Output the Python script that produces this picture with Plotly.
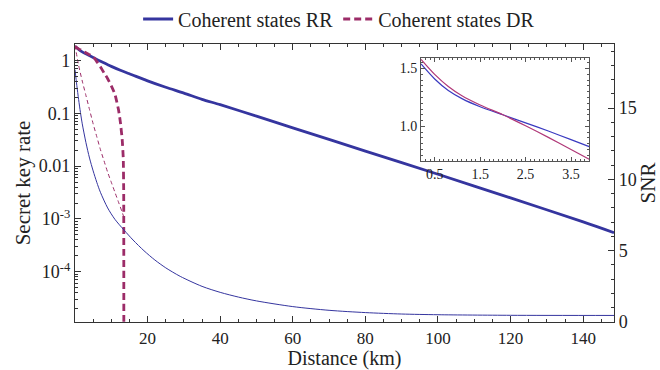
import plotly.graph_objects as go

# Secret key rate (log scale) versus distance
dist_rr = [0, 1, 2, 3, 5, 7.5, 10, 12.5, 15, 20, 25, 30, 35, 40, 50, 60, 80, 100, 120, 140, 148.5]
key_rr = [1.85, 1.62, 1.45, 1.33, 1.13, 0.93, 0.77, 0.65, 0.56, 0.41, 0.31, 0.24, 0.183,
          0.145, 0.088, 0.053, 0.0192, 0.0070, 0.0025, 0.00088, 0.00055]

dist_dr = [0, 1, 2, 3, 4, 5, 6, 7, 8, 9, 10, 11, 12, 12.5, 13, 13.3, 13.42, 13.46]
key_dr = [1.85, 1.65, 1.52, 1.40, 1.28, 1.17, 0.95, 0.76, 0.58, 0.45, 0.33, 0.23, 0.115,
          0.068, 0.032, 0.014, 0.003, 1e-7]

# Signal-to-noise ratio (right axis)
dist_snr_rr = [0, 0.5, 1, 1.5, 2, 3, 4, 5, 6, 7, 9, 11, 13.5, 16, 19, 22, 25, 29, 35, 40,
               45, 50, 60, 70, 80, 90, 100, 120, 148.5]
snr_rr = [17.7, 16.6, 15.6, 14.7, 13.9, 12.6, 11.5, 10.6, 9.8, 9.1, 8.0, 7.2, 6.45, 5.75,
          5.0, 4.35, 3.8, 3.2, 2.5, 2.08, 1.75, 1.48, 1.08, 0.82, 0.66, 0.56, 0.51, 0.47, 0.46]

dist_snr_dr = [0, 1, 2, 3, 4, 5, 6, 7, 8, 9, 10, 11, 12, 13, 13.46]
snr_dr = [19.4, 18.0, 16.9, 15.9, 14.9, 13.9, 13.0, 12.1, 11.3, 10.5, 9.8, 9.1, 8.4, 7.7, 7.35]

# Inset: short-distance detail
inset_x = [0.2, 0.5, 0.8, 1.1, 1.5, 2.0, 2.5, 3.0, 3.5, 3.9]
inset_rr = [1.54, 1.41, 1.31, 1.24, 1.17, 1.10, 1.03, 0.96, 0.885, 0.825]
inset_dr = [1.58, 1.45, 1.345, 1.265, 1.185, 1.10, 1.005, 0.905, 0.80, 0.715]

key_ticks = [1e-4, 1e-3, 0.01, 0.1, 1]
key_ticktext = ["10<sup>-4</sup>", "10<sup>-3</sup>", "0.01", "0.1", "1"]
dist_ticks = [20, 40, 60, 80, 100, 120, 140]
snr_ticks = [0, 5, 10, 15]
inset_xticks = [0.5, 1.5, 2.5, 3.5]
inset_yticks = [1.0, 1.5]

BLUE = "#35359f"
PURPLE = "#9c2c68"
AXIS = "#333333"
FONT = "Liberation Serif, DejaVu Serif, serif"

fig = go.Figure()

fig.add_trace(go.Scatter(x=dist_rr, y=key_rr, mode="lines", name="Coherent states RR",
                         line=dict(color=BLUE, width=2.8, shape="spline", smoothing=0.8)))
fig.add_trace(go.Scatter(x=dist_dr, y=key_dr, mode="lines", name="Coherent states DR",
                         line=dict(color=PURPLE, width=2.8, dash="7px,4px", shape="spline",
                                   smoothing=0.4)))
fig.add_trace(go.Scatter(x=dist_snr_rr, y=snr_rr, mode="lines", yaxis="y2", showlegend=False,
                         line=dict(color=BLUE, width=1, shape="spline", smoothing=0.8)))
fig.add_trace(go.Scatter(x=dist_snr_dr, y=snr_dr, mode="lines", yaxis="y2", showlegend=False,
                         line=dict(color=PURPLE, width=1, dash="4px,3px", shape="spline",
                                   smoothing=0.6)))
fig.add_trace(go.Scatter(x=inset_x, y=inset_rr, mode="lines", xaxis="x3", yaxis="y3",
                         showlegend=False,
                         line=dict(color="#3a3ac0", width=1.2, shape="spline", smoothing=0.8)))
fig.add_trace(go.Scatter(x=inset_x, y=inset_dr, mode="lines", xaxis="x3", yaxis="y3",
                         showlegend=False,
                         line=dict(color="#b03878", width=1.2, shape="spline", smoothing=0.8)))

log_minor = [m * 10.0 ** e for e in range(-5, 1) for m in range(2, 10)]

fig.update_layout(
    width=660, height=370,
    margin=dict(l=75, r=46, t=44, b=48, autoexpand=False),
    paper_bgcolor="white", plot_bgcolor="white",
    font=dict(family=FONT, size=18, color="#222"),
    legend=dict(orientation="h", x=0.49, xanchor="center", y=1.09, yanchor="middle",
                font=dict(size=20), itemwidth=30, tracegroupgap=0),
    xaxis=dict(range=[0, 148.5], tickvals=dist_ticks, ticks="inside", ticklen=6,
               tickcolor=AXIS, showline=True, linecolor=AXIS, linewidth=1.3,
               mirror="ticks", showgrid=False, zeroline=False, tickfont=dict(size=17),
               minor=dict(dtick=5, tick0=0, ticks="inside", ticklen=3, tickcolor=AXIS),
               title=dict(text="Distance (km)", font=dict(size=20), standoff=2)),
    yaxis=dict(type="log", range=[-4.95, 0.31], tickvals=key_ticks, ticktext=key_ticktext,
               ticks="inside", ticklen=6, tickcolor=AXIS, showline=True, linecolor=AXIS,
               linewidth=1.3, showgrid=False, zeroline=False,
               minor=dict(tickvals=log_minor, ticks="inside", ticklen=3, tickcolor=AXIS),
               title=dict(text="Secret key rate", font=dict(size=21), standoff=2)),
    yaxis2=dict(overlaying="y", side="right", range=[0, 19.5], tickvals=snr_ticks,
                ticks="inside", ticklen=6, tickcolor=AXIS, showline=True, linecolor=AXIS,
                linewidth=1.3, showgrid=False, zeroline=False,
                minor=dict(dtick=1, ticks="inside", ticklen=3, tickcolor=AXIS),
                title=dict(text="SNR", font=dict(size=21), standoff=8)),
    xaxis3=dict(domain=[0.642, 0.954], anchor="y3", range=[0.2, 3.9], tickvals=inset_xticks,
                ticks="inside", ticklen=4, tickcolor="#555", showline=True, linecolor="#555",
                linewidth=1, mirror="ticks", showgrid=False, zeroline=False,
                tickfont=dict(size=14),
                minor=dict(dtick=0.1, tick0=0, ticks="inside", ticklen=2, tickcolor="#555")),
    yaxis3=dict(domain=[0.579, 0.949], anchor="x3", range=[0.7, 1.59], tickvals=inset_yticks,
                tickformat=".1f", ticks="inside", ticklen=4, tickcolor="#555", showline=True,
                linecolor="#555", linewidth=1, mirror="ticks", showgrid=False, zeroline=False,
                tickfont=dict(size=14),
                minor=dict(dtick=0.05, tick0=0, ticks="inside", ticklen=2, tickcolor="#555")),
)

fig.write_html("out.html")
